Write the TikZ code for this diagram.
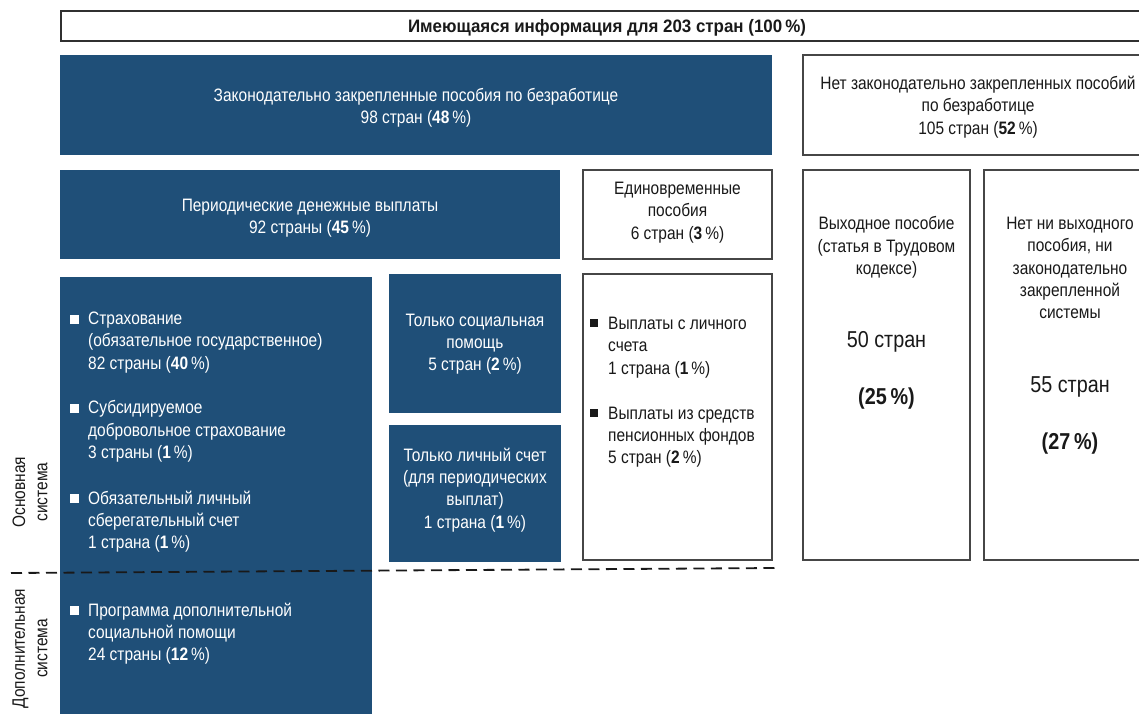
\documentclass[tikz,border=0pt]{standalone}
\usepackage{fontspec}
\setmainfont{Liberation Sans}[FakeStretch=0.86]
\newfontfamily\titlefont{Liberation Sans}[FakeStretch=0.94]
\definecolor{ublue}{RGB}{31,79,120}
\definecolor{edgegray}{RGB}{70,70,70}
\definecolor{ink}{RGB}{25,25,25}
\newcommand{\fsN}{\fontsize{18}{22.3}\selectfont}
\newcommand{\fsL}{\fontsize{23}{28}\selectfont}
\begin{document}
\begin{tikzpicture}[x=1pt,y=-1pt,
  box/.style={anchor=north west,inner sep=0pt,outer sep=0pt},
  bluebox/.style={box,fill=ublue,draw=none},
  whitebox/.style={box,fill=white,draw=edgegray,line width=1.4pt},
  wtxt/.style={inner sep=0pt,text=white,font=\fsN,align=center},
  ktxt/.style={inner sep=0pt,text=ink,font=\fsN,align=center},
  bigtxt/.style={inner sep=0pt,text=ink,font=\fsL},
  dashline/.style={draw=ink,line width=1.8pt,dash pattern=on 11pt off 6.5pt},
  sidelabel/.style={rotate=90,align=center,inner sep=0pt,text=ink,font=\fsN}]
\useasboundingbox (0,0) rectangle (1139,713);
\clip (0,0) rectangle (1139,713);

% top title box
\node[box,draw=ink!90,line width=2pt,fill=white,minimum width=1092pt,minimum height=30pt] (top) at (61,11) {};
\node[inner sep=0pt,text=ink,font=\fsN\titlefont\bfseries] (title) at (607,28) {Имеющаяся информация для 203 стран (100\,\%)};

% boxes
\node[bluebox,minimum width=712pt,minimum height=100pt] (A) at (60,55) {};
\node[whitebox,minimum width=350pt,minimum height=100pt] (B) at (803,55) {};
\node[bluebox,minimum width=500pt,minimum height=89pt] (C) at (60,170) {};
\node[whitebox,minimum width=189pt,minimum height=89pt] (D) at (583,170) {};
\node[whitebox,minimum width=167pt,minimum height=390pt] (E) at (803,170) {};
\node[whitebox,minimum width=172pt,minimum height=390pt] (F) at (984,170) {};
\node[bluebox,minimum width=312pt,minimum height=445pt] (G) at (60,277) {};
\node[bluebox,minimum width=172pt,minimum height=139pt] (H) at (389,274) {};
\node[bluebox,minimum width=172pt,minimum height=137pt] (I) at (389,425) {};
\node[whitebox,minimum width=189pt,minimum height=286pt] (J) at (583,274) {};

% centred texts
\node[wtxt] (At) at (416,108) {Законодательно закрепленные пособия по безработице\\98 стран (\textbf{48}\,\%)};
\node[ktxt] (Bt) at (978,107) {Нет законодательно закрепленных пособий\\по безработице\\105 стран (\textbf{52}\,\%)};
\node[wtxt] (Ct) at (310,218.5) {Периодические денежные выплаты\\92 страны (\textbf{45}\,\%)};
\node[ktxt] (Dt) at (677.5,212.5) {Единовременные\\пособия\\6 стран (\textbf{3}\,\%)};
\node[wtxt] (Ht) at (475,344) {Только социальная\\помощь\\5 стран (\textbf{2}\,\%)};
\node[wtxt] (It) at (475,490) {Только личный счет\\(для периодических\\выплат)\\1 страна (\textbf{1}\,\%)};

% texts of E and F
\node[ktxt] (Et) at (886.5,247.3) {Выходное пособие\\(статья в Трудовом\\кодексе)};
\node[bigtxt] (En) at (886.5,341.5) {50 стран};
\node[bigtxt,font=\fsL\bfseries] (Ep) at (886.5,398.5) {(25\,\%)};
\node[ktxt] (Ft) at (1070,268) {Нет ни выходного\\пособия, ни\\законодательно\\закрепленной\\системы};
\node[bigtxt] (Fn) at (1070,386.5) {55 стран};
\node[bigtxt,font=\fsL\bfseries] (Fp) at (1070,443.5) {(27\,\%)};

% bullet items in G
\fill[white] (70,315) rectangle ++(8.5,8.5);
\node[wtxt,align=left,anchor=west] (G1) at (88,342.5) {Страхование\\(обязательное государственное)\\82 страны (\textbf{40}\,\%)};
\fill[white] (70,404) rectangle ++(8.5,8.5);
\node[wtxt,align=left,anchor=west] (G2) at (88,431.5) {Субсидируемое\\добровольное страхование\\3 страны (\textbf{1}\,\%)};
\fill[white] (70,494) rectangle ++(8.5,8.5);
\node[wtxt,align=left,anchor=west] (G3) at (88,521.7) {Обязательный личный\\сберегательный счет\\1 страна (\textbf{1}\,\%)};
\fill[white] (70,606) rectangle ++(8.5,8.5);
\node[wtxt,align=left,anchor=west] (G4) at (88,633.7) {Программа дополнительной\\социальной помощи\\24 страны (\textbf{12}\,\%)};

% bullet items in J
\fill[ink] (590,319) rectangle ++(8,8);
\node[ktxt,align=left,anchor=west] (J1) at (608,347.5) {Выплаты с личного\\счета\\1 страна (\textbf{1}\,\%)};
\fill[ink] (590,409) rectangle ++(8,8);
\node[ktxt,align=left,anchor=west] (J2) at (608,437.2) {Выплаты из средств\\пенсионных фондов\\5 стран (\textbf{2}\,\%)};

% dashed separator
\coordinate (d1) at (11,573);
\coordinate (d2) at (775,568);
\draw[dashline] (d1) -- (d2);

% side labels
\node[sidelabel] (s1) at (30,492) {Основная\\система};
\node[sidelabel] (s2) at (30,648.5) {Дополнительная\\система};
\end{tikzpicture}
\end{document}
